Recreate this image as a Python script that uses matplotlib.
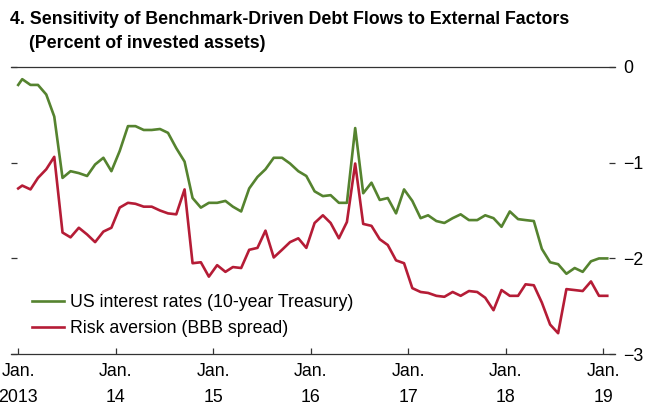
import matplotlib
matplotlib.use("Agg")
import matplotlib.pyplot as plt
import pandas as pd

plt.rcParams["font.family"] = ["Liberation Sans", "DejaVu Sans"]

# first reading at the start of Jan 2013, then monthly (mid-month) to Jan 2019
dates = pd.DatetimeIndex(["2013-01-01"]).append(
    pd.date_range("2013-01-01", "2019-01-01", freq="MS") + pd.Timedelta(days=15))

us_rates = [
    -0.19, -0.13, -0.19, -0.19, -0.29, -0.52, -1.16, -1.09, -1.11, -1.14,
    -1.02, -0.95, -1.09, -0.88, -0.62, -0.62, -0.66, -0.66, -0.65, -0.69,
    -0.85, -0.99, -1.37, -1.47, -1.42, -1.42, -1.40, -1.46, -1.51, -1.27,
    -1.15, -1.07, -0.95, -0.95, -1.01, -1.09, -1.14, -1.30, -1.35, -1.34,
    -1.42, -1.42, -0.64, -1.32, -1.21, -1.39, -1.37, -1.53, -1.28, -1.40,
    -1.58, -1.55, -1.61, -1.63, -1.58, -1.54, -1.60, -1.60, -1.55, -1.58,
    -1.67, -1.51, -1.59, -1.60, -1.61, -1.90, -2.04, -2.06, -2.16, -2.10,
    -2.14, -2.03, -2.00, -2.00,
]
risk_aversion = [
    -1.27, -1.24, -1.28, -1.16, -1.07, -0.94, -1.73, -1.78, -1.68, -1.75,
    -1.83, -1.72, -1.68, -1.47, -1.42, -1.43, -1.46, -1.46, -1.50, -1.53,
    -1.54, -1.28, -2.05, -2.04, -2.19, -2.07, -2.14, -2.09, -2.10, -1.91,
    -1.89, -1.71, -1.99, -1.91, -1.83, -1.79, -1.89, -1.63, -1.55, -1.63,
    -1.79, -1.62, -1.01, -1.64, -1.66, -1.80, -1.86, -2.02, -2.05, -2.31,
    -2.35, -2.36, -2.39, -2.40, -2.35, -2.39, -2.34, -2.35, -2.41, -2.54,
    -2.33, -2.39, -2.39, -2.27, -2.28, -2.46, -2.69, -2.78, -2.32, -2.33,
    -2.34, -2.24, -2.39, -2.39,
]
year_ticks = pd.date_range("2013-01-01", "2019-01-01", freq="YS")
year_labels = ["Jan.\n2013", "Jan.\n14", "Jan.\n15", "Jan.\n16",
               "Jan.\n17", "Jan.\n18", "Jan.\n19"]
y_ticks = [0, -1, -2, -3]

GREEN = "#55832f"
RED = "#b51c36"
FS = 12.8

fig = plt.figure(figsize=(6.55, 4.09), dpi=100)
ax = fig.add_axes([11 / 655, 1 - 354.3 / 409, 604 / 655, 287.6 / 409])

ax.plot(dates, us_rates, color=GREEN, lw=1.9, label="US interest rates (10-year Treasury)")
ax.plot(dates, risk_aversion, color=RED, lw=1.9, label="Risk aversion (BBB spread)")

ax.set_ylim(-3, 0)
ax.set_xlim(pd.Timestamp("2012-12-05"), pd.Timestamp("2019-02-14"))
ax.set_yticks(y_ticks)
ax.set_xticks(year_ticks)
ax.set_xticklabels(year_labels, fontsize=FS, linespacing=1.75)

ax.spines[["left", "right"]].set_visible(False)
for s in ("top", "bottom"):
    ax.spines[s].set_color("#333333")
    ax.spines[s].set_linewidth(0.9)
ax.tick_params(axis="y", left=True, right=True, labelleft=False, labelright=True,
               direction="in", length=4.5, width=0.9, color="#333333",
               labelsize=FS, pad=6)
ax.tick_params(axis="x", direction="in", length=4.5, width=0.9, color="#333333", pad=6)

ax.legend(loc="lower left", bbox_to_anchor=(0.035, 0.06), frameon=False,
          fontsize=FS, borderpad=0, borderaxespad=0, handlelength=1.8,
          handletextpad=0.35, labelspacing=0.52)

fig.text(10 / 655, 1 - 24 / 409,
         "4. Sensitivity of Benchmark-Driven Debt Flows to External Factors",
         fontsize=FS, fontweight="bold", va="baseline")
fig.text(29 / 655, 1 - 48 / 409, "(Percent of invested assets)",
         fontsize=FS, fontweight="bold", va="baseline")

fig.savefig("out.png", dpi=100)
